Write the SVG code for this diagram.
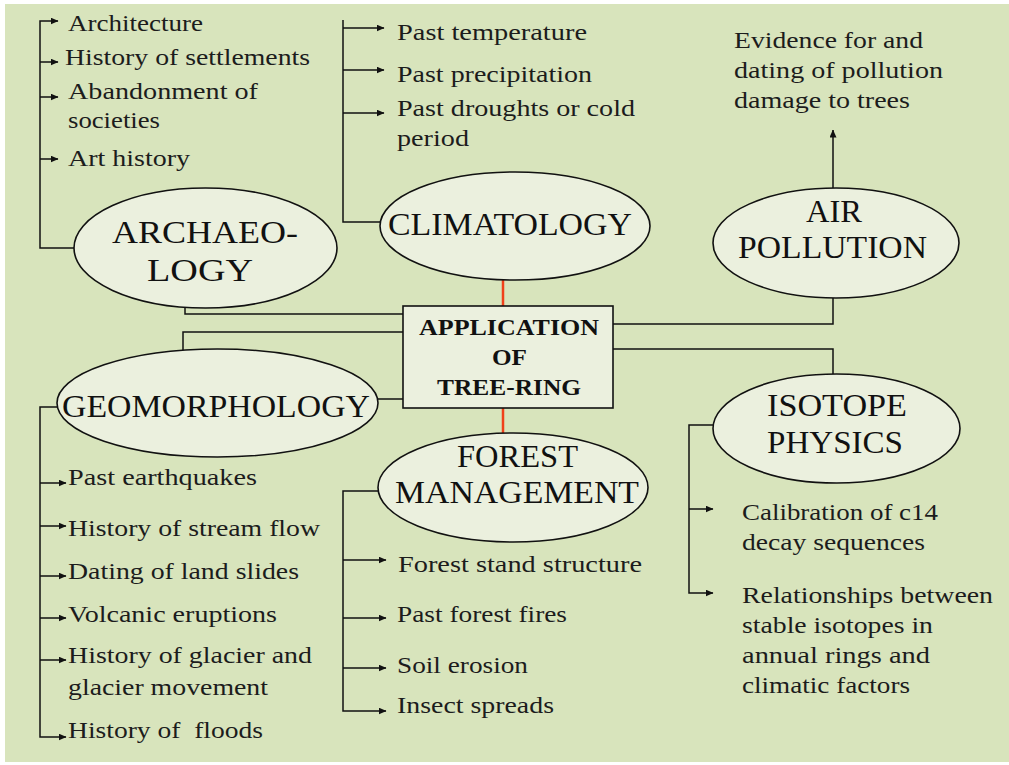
<svg xmlns="http://www.w3.org/2000/svg" width="1009" height="765" viewBox="0 0 1009 765">
<style>
.bg{fill:#d8e4bc}
.node{fill:#ebf0de;stroke:#111;stroke-width:1.6}
.h{font-family:"Liberation Serif","Times New Roman",serif;font-size:32px;fill:#111}
.b{font-family:"Liberation Serif","Times New Roman",serif;font-size:24px;font-weight:bold;fill:#111}
.t{font-family:"Liberation Serif","Times New Roman",serif;font-size:24px;fill:#1c1c1c}
.ln{fill:none;stroke:#111;stroke-width:1.5}
.ar{fill:none;stroke:#111;stroke-width:1.5;marker-end:url(#ah)}
.red{fill:none;stroke:#f0401a;stroke-width:2.5}
</style>
<defs>
<marker id="ah" markerUnits="userSpaceOnUse" markerWidth="8" markerHeight="7" refX="7.5" refY="3.5" orient="auto">
<path d="M0,0 L8,3.5 L0,7 z" fill="#111"/>
</marker>
</defs>
<rect x="0" y="0" width="1009" height="765" fill="#ffffff"/>
<rect class="bg" x="5" y="4" width="1004" height="758"/>

<g id="connectors">
<path class="ln" d="M185,307 V314 H403"/>
<path class="ln" d="M183,350 V332 H403"/>
<path class="ln" d="M378,399 H403"/>
<path class="red" d="M503,280 V306"/>
<path class="red" d="M503,408 V433"/>
<path class="ln" d="M613,324 H833 V298"/>
<path class="ln" d="M613,349 H833 V374"/>
<path class="ar" d="M833,188 V130"/>
<path class="ar" d="M74,248 H40 V21 H58"/>
<path class="ar" d="M40,62 H58"/>
<path class="ar" d="M40,97 H58"/>
<path class="ar" d="M40,159 H58"/>
<path class="ln" d="M380,222 H343 V20"/>
<path class="ar" d="M343,28 H384"/>
<path class="ar" d="M343,70 H384"/>
<path class="ar" d="M343,113 H384"/>
<path class="ar" d="M57,407 H40 V737 H66"/>
<path class="ar" d="M40,483 H66"/>
<path class="ar" d="M40,526 H66"/>
<path class="ar" d="M40,576 H66"/>
<path class="ar" d="M40,618 H66"/>
<path class="ar" d="M40,660 H66"/>
<path class="ar" d="M378,491 H343 V711 H386"/>
<path class="ar" d="M343,560 H386"/>
<path class="ar" d="M343,618 H386"/>
<path class="ar" d="M343,668 H386"/>
<path class="ar" d="M713,425 H689 V593 H713"/>
<path class="ar" d="M689,509 H713"/>
</g>

<g id="center">
<rect class="node" x="403" y="306" width="210" height="102"/>
<text class="b" x="419" y="335" textLength="180" lengthAdjust="spacingAndGlyphs">APPLICATION</text>
<text class="b" x="492" y="365" textLength="35" lengthAdjust="spacingAndGlyphs">OF</text>
<text class="b" x="437" y="395" textLength="144" lengthAdjust="spacingAndGlyphs">TREE-RING</text>
</g>

<g id="archaeology">
<ellipse class="node" cx="205.5" cy="248" rx="131.5" ry="60"/>
<text class="h" x="112" y="243" textLength="186" lengthAdjust="spacingAndGlyphs">ARCHAEO-</text>
<text class="h" x="147" y="281" textLength="106" lengthAdjust="spacingAndGlyphs">LOGY</text>
</g>
<g id="archaeology-items">
<text class="t" x="68" y="31" textLength="135" lengthAdjust="spacingAndGlyphs">Architecture</text>
<text class="t" x="65" y="65" textLength="245" lengthAdjust="spacingAndGlyphs">History of settlements</text>
<text class="t" x="68" y="99" textLength="190" lengthAdjust="spacingAndGlyphs">Abandonment of</text>
<text class="t" x="68" y="128" textLength="92" lengthAdjust="spacingAndGlyphs">societies</text>
<text class="t" x="68" y="166" textLength="122" lengthAdjust="spacingAndGlyphs">Art history</text>
</g>

<g id="climatology">
<ellipse class="node" cx="515" cy="226" rx="135" ry="54"/>
<text class="h" x="388" y="235" textLength="244" lengthAdjust="spacingAndGlyphs">CLIMATOLOGY</text>
</g>
<g id="climatology-items">
<text class="t" x="397" y="40" textLength="190" lengthAdjust="spacingAndGlyphs">Past temperature</text>
<text class="t" x="397" y="82" textLength="195" lengthAdjust="spacingAndGlyphs">Past precipitation</text>
<text class="t" x="397" y="116" textLength="238" lengthAdjust="spacingAndGlyphs">Past droughts or cold</text>
<text class="t" x="397" y="146" textLength="72" lengthAdjust="spacingAndGlyphs">period</text>
</g>

<g id="air-pollution">
<ellipse class="node" cx="836" cy="243" rx="123" ry="55"/>
<text class="h" x="806" y="222" textLength="56" lengthAdjust="spacingAndGlyphs">AIR</text>
<text class="h" x="738" y="258" textLength="189" lengthAdjust="spacingAndGlyphs">POLLUTION</text>
</g>
<g id="air-items">
<text class="t" x="734" y="48" textLength="189" lengthAdjust="spacingAndGlyphs">Evidence for and</text>
<text class="t" x="734" y="78" textLength="209" lengthAdjust="spacingAndGlyphs">dating of pollution</text>
<text class="t" x="734" y="108" textLength="176" lengthAdjust="spacingAndGlyphs">damage to trees</text>
</g>

<g id="geomorphology">
<ellipse class="node" cx="217.5" cy="403" rx="160.5" ry="54"/>
<text class="h" x="62" y="417" textLength="308" lengthAdjust="spacingAndGlyphs">GEOMORPHOLOGY</text>
</g>
<g id="geomorphology-items">
<text class="t" x="68" y="485" textLength="189" lengthAdjust="spacingAndGlyphs">Past earthquakes</text>
<text class="t" x="68" y="536" textLength="252" lengthAdjust="spacingAndGlyphs">History of stream flow</text>
<text class="t" x="68" y="579" textLength="231" lengthAdjust="spacingAndGlyphs">Dating of land slides</text>
<text class="t" x="68" y="622" textLength="209" lengthAdjust="spacingAndGlyphs">Volcanic eruptions</text>
<text class="t" x="68" y="663" textLength="244" lengthAdjust="spacingAndGlyphs">History of glacier and</text>
<text class="t" x="68" y="695" textLength="200" lengthAdjust="spacingAndGlyphs">glacier movement</text>
<text class="t" x="68" y="738" textLength="195" lengthAdjust="spacingAndGlyphs" xml:space="preserve">History of  floods</text>
</g>

<g id="forest-management">
<ellipse class="node" cx="513" cy="487.5" rx="135" ry="54.5"/>
<text class="h" x="457" y="467" textLength="121" lengthAdjust="spacingAndGlyphs">FOREST</text>
<text class="h" x="395" y="503" textLength="244" lengthAdjust="spacingAndGlyphs">MANAGEMENT</text>
</g>
<g id="forest-items">
<text class="t" x="398" y="572" textLength="244" lengthAdjust="spacingAndGlyphs">Forest stand structure</text>
<text class="t" x="397" y="622" textLength="170" lengthAdjust="spacingAndGlyphs">Past forest fires</text>
<text class="t" x="397" y="673" textLength="131" lengthAdjust="spacingAndGlyphs">Soil erosion</text>
<text class="t" x="397" y="713" textLength="157" lengthAdjust="spacingAndGlyphs">Insect spreads</text>
</g>

<g id="isotope-physics">
<ellipse class="node" cx="836.5" cy="428.5" rx="123.5" ry="54.5"/>
<text class="h" x="767" y="416" textLength="140" lengthAdjust="spacingAndGlyphs">ISOTOPE</text>
<text class="h" x="767" y="453" textLength="136" lengthAdjust="spacingAndGlyphs">PHYSICS</text>
</g>
<g id="isotope-items">
<text class="t" x="742" y="520" textLength="196" lengthAdjust="spacingAndGlyphs">Calibration of c14</text>
<text class="t" x="742" y="550" textLength="183" lengthAdjust="spacingAndGlyphs">decay sequences</text>
<text class="t" x="742" y="603" textLength="251" lengthAdjust="spacingAndGlyphs">Relationships between</text>
<text class="t" x="742" y="633" textLength="191" lengthAdjust="spacingAndGlyphs">stable isotopes in</text>
<text class="t" x="742" y="663" textLength="188" lengthAdjust="spacingAndGlyphs">annual rings and</text>
<text class="t" x="742" y="693" textLength="168" lengthAdjust="spacingAndGlyphs">climatic factors</text>
</g>
</svg>
